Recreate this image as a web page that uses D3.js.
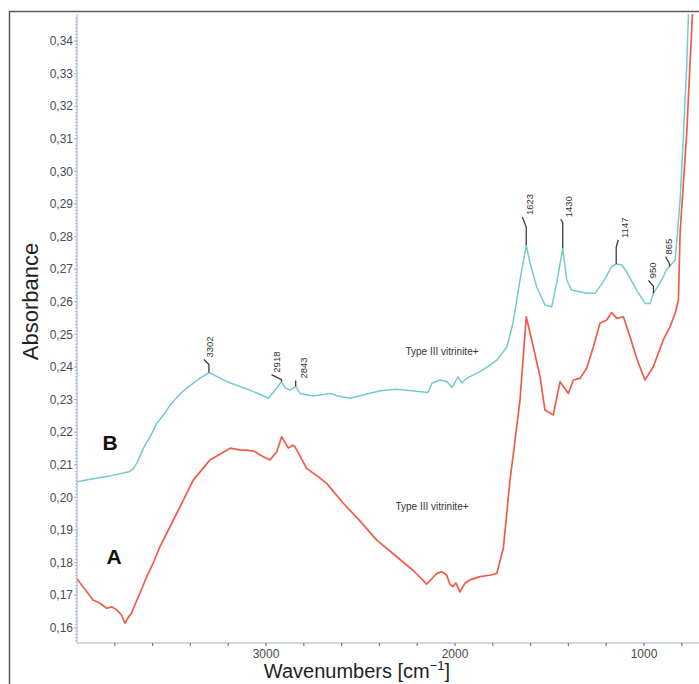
<!DOCTYPE html>
<html>
<head>
<meta charset="utf-8">
<script src="https://cdn.jsdelivr.net/npm/d3@7/dist/d3.min.js"></script>
<style>
  body { margin: 0; background: #fff; }
  svg { display: block; font-family: "Liberation Sans", Arial, sans-serif; }
</style>
</head>
<body>
<svg id="chart"></svg>
<script>
// wavenumber [cm-1], absorbance
const seriesB = [
  [4000, 0.2048], [3931, 0.2056], [3825, 0.2066], [3725, 0.2079], [3704, 0.2087],
  [3683, 0.2106], [3645, 0.2155], [3614, 0.2185], [3577, 0.2228], [3534, 0.2259],
  [3508, 0.2283], [3455, 0.2317], [3418, 0.2336], [3349, 0.2366], [3302, 0.2383],
  [3206, 0.2355], [3085, 0.2329], [2986, 0.2304], [2918, 0.2355], [2899, 0.2336],
  [2873, 0.2329], [2843, 0.2340], [2820, 0.2319], [2751, 0.2311], [2661, 0.2319],
  [2619, 0.2311], [2556, 0.2304], [2487, 0.2314], [2397, 0.2327], [2307, 0.2332],
  [2143, 0.2322], [2122, 0.2350], [2079, 0.2360], [2042, 0.2355], [2016, 0.2337],
  [1984, 0.2370], [1963, 0.2351], [1937, 0.2366], [1884, 0.2381], [1852, 0.2391],
  [1778, 0.2421], [1725, 0.2462], [1693, 0.2535], [1656, 0.2667], [1623, 0.2774],
  [1603, 0.2719], [1568, 0.2646], [1524, 0.2590], [1488, 0.2585], [1462, 0.2658],
  [1430, 0.2764], [1409, 0.2667], [1383, 0.2636], [1339, 0.2631], [1303, 0.2626],
  [1259, 0.2626], [1215, 0.2662], [1171, 0.2708], [1147, 0.2716], [1118, 0.2713],
  [1092, 0.2692], [1039, 0.2636], [995, 0.2595], [968, 0.2595], [950, 0.2626],
  [906, 0.2667], [880, 0.2700], [865, 0.2708], [835, 0.2728], [809, 0.2912],
  [791, 0.3118], [774, 0.3321], [765, 0.3480], [760, 0.3600]
];

const seriesA = [
  [4000, 0.1750], [3950, 0.1712], [3915, 0.1685], [3880, 0.1676], [3843, 0.1660],
  [3815, 0.1664], [3790, 0.1655], [3765, 0.1640], [3746, 0.1614], [3729, 0.1632],
  [3711, 0.1645], [3690, 0.1676], [3667, 0.1706], [3631, 0.1757], [3595, 0.1801],
  [3561, 0.1849], [3508, 0.1910], [3455, 0.1971], [3385, 0.2053], [3296, 0.2115],
  [3190, 0.2151], [3140, 0.2146], [3102, 0.2145], [3060, 0.2141], [3032, 0.2130],
  [2979, 0.2115], [2943, 0.2140], [2917, 0.2186], [2882, 0.2151], [2860, 0.2160],
  [2847, 0.2156], [2785, 0.2089], [2730, 0.2066], [2679, 0.2043], [2591, 0.1982],
  [2503, 0.1928], [2414, 0.1869], [2308, 0.1818], [2220, 0.1775], [2150, 0.1734],
  [2120, 0.1752], [2097, 0.1767], [2070, 0.1772], [2044, 0.1762], [2028, 0.1735],
  [2011, 0.1726], [1995, 0.1738], [1974, 0.1710], [1948, 0.1736], [1921, 0.1747],
  [1868, 0.1757], [1810, 0.1762], [1779, 0.1767], [1744, 0.1845], [1709, 0.2053],
  [1691, 0.2135], [1656, 0.2299], [1623, 0.2554], [1586, 0.2462], [1550, 0.2370],
  [1524, 0.2268], [1480, 0.2253], [1444, 0.2355], [1400, 0.2319], [1374, 0.2360],
  [1339, 0.2365], [1303, 0.2396], [1268, 0.2462], [1233, 0.2534], [1197, 0.2544],
  [1171, 0.2567], [1144, 0.2549], [1109, 0.2554], [1074, 0.2493], [1039, 0.2427],
  [995, 0.2360], [951, 0.2401], [898, 0.2483], [862, 0.2524], [835, 0.2565],
  [818, 0.2606], [809, 0.2811], [774, 0.3118], [744, 0.3480], [740, 0.3600]
];

const peakLabels = ["3302", "2918", "2843", "1623", "1430", "1147", "950", "865"];
const peakWaves = [3302, 2918, 2843, 1623, 1430, 1147, 950, 865];
const yTicks = [0.16, 0.17, 0.18, 0.19, 0.20, 0.21, 0.22, 0.23, 0.24, 0.25,
  0.26, 0.27, 0.28, 0.29, 0.30, 0.31, 0.32, 0.33, 0.34];
const xTicks = [3000, 2000, 1000];
const sampleNames = ["A", "B"];
const sampleNote = "Type III vitrinite+";

const width = 699;
const height = 684;
const plot = { left: 77, right: 699, top: 14, bottom: 643 };

// leader line: vertical length, slant dx, slant dy, text x offset
const leaderLayout = [
  [8, -5, 5, 1], [2, -10, 5, -5], [4, 0, 2, 8], [18, -4, 10, 3],
  [26, -2, 3, 5.5], [17, 2, 7, 8], [7, -5, 6, -1], [3, -4, 7, -1]
];

const colorA = "#f05c47";
const colorB = "#74cbcd";
const axisColor = "#9eb0c0";

const svg = d3.select("#chart").attr("width", width).attr("height", height);

const x = d3.scaleLinear().domain([4000, 400]).range([plot.left, plot.left + 3600 * 0.189]);
const y = d3.scaleLinear().domain([0.15534, 0.34828]).range([plot.bottom, plot.top]);

const commaFmt = v => d3.format(".2f")(v).replace(".", ",");

// outer frame
svg
  .append("path")
  .attr("d", `M9.5,${height + 2}V11.5H${width + 2}`)
  .attr("fill", "none")
  .attr("stroke", "#5a5a5a")
  .attr("stroke-width", 1.5);

svg
  .append("clipPath")
  .attr("id", "clip")
  .append("rect")
  .attr("x", plot.left)
  .attr("y", plot.top)
  .attr("width", plot.right - plot.left)
  .attr("height", plot.bottom - plot.top);

// y axis
const yAxis = svg.append("g").attr("transform", `translate(${plot.left},0)`);
yAxis
  .append("line")
  .attr("y1", plot.top)
  .attr("y2", plot.bottom)
  .attr("stroke", axisColor);
yAxis
  .selectAll("line.minor")
  .data(d3.range(0.156, 0.348, 0.001))
  .enter()
  .append("line")
  .attr("class", "minor")
  .attr("x1", -2)
  .attr("x2", 0)
  .attr("y1", d => y(d))
  .attr("y2", d => y(d))
  .attr("stroke", axisColor)
  .attr("stroke-width", 0.8);
const yTick = yAxis
  .selectAll("g.tick")
  .data(yTicks)
  .enter()
  .append("g")
  .attr("class", "tick")
  .attr("transform", d => `translate(0,${y(d)})`);
yTick.append("line").attr("x1", -3).attr("x2", 0).attr("stroke", axisColor);
yTick
  .append("text")
  .attr("x", -4)
  .attr("dy", "0.35em")
  .attr("text-anchor", "end")
  .attr("font-size", 12)
  .attr("fill", "#4b4b4b")
  .text(commaFmt);

// x axis
const xAxis = svg.append("g").attr("transform", `translate(0,${plot.bottom})`);
xAxis
  .append("line")
  .attr("x1", plot.left)
  .attr("x2", plot.right)
  .attr("stroke", axisColor);
xAxis
  .selectAll("line.minor")
  .data(d3.range(3800, 600, -200))
  .enter()
  .append("line")
  .attr("class", "minor")
  .attr("x1", d => x(d))
  .attr("x2", d => x(d))
  .attr("y1", 0)
  .attr("y2", 3)
  .attr("stroke", "#6d7b88")
  .attr("stroke-width", 1.2);
xAxis
  .selectAll("text")
  .data(xTicks)
  .enter()
  .append("text")
  .attr("x", d => x(d))
  .attr("y", 14.5)
  .attr("text-anchor", "middle")
  .attr("font-size", 12)
  .attr("fill", "#4b4b4b")
  .text(d => d);

// axis titles
svg
  .append("text")
  .attr("transform", `translate(38,${(plot.top + plot.bottom) / 2 - 27}) rotate(-90)`)
  .attr("text-anchor", "middle")
  .attr("font-size", 22)
  .attr("fill", "#1e1e1e")
  .text("Absorbance");

const xTitle = svg
  .append("text")
  .attr("x", 357)
  .attr("y", 678)
  .attr("text-anchor", "middle")
  .attr("font-size", 20)
  .attr("fill", "#1e1e1e");
xTitle.append("tspan").text("Wavenumbers [cm");
xTitle.append("tspan").attr("font-size", 13).attr("dy", -8).text("\u22121");
xTitle.append("tspan").attr("dy", 8).text("]");

// spectra
const line = d3
  .line()
  .x(d => x(d[0]))
  .y(d => y(d[1]));

const lines = svg.append("g").attr("clip-path", "url(#clip)");
lines
  .selectAll("path")
  .data([
    { name: "A", values: seriesA, color: colorA, w: 1.7 },
    { name: "B", values: seriesB, color: colorB, w: 1.5 }
  ])
  .enter()
  .append("path")
  .attr("d", d => line(d.values))
  .attr("fill", "none")
  .attr("stroke", d => d.color)
  .attr("stroke-width", d => d.w)
  .attr("stroke-linejoin", "round");

// peak labels on spectrum B
function valueAt(series, wn) {
  const hit = series.find(d => d[0] === wn);
  return hit ? hit[1] : null;
}

const peaks = svg
  .append("g")
  .selectAll("g")
  .data(peakWaves.map((wn, i) => ({ wn, label: peakLabels[i], lay: leaderLayout[i] })))
  .enter()
  .append("g");

peaks
  .append("path")
  .attr("d", d => {
    const px = x(d.wn);
    const py = y(valueAt(seriesB, d.wn));
    const [len, dx, dy] = d.lay;
    return `M${px},${py}V${py - len}L${px + dx},${py - len - dy}`;
  })
  .attr("fill", "none")
  .attr("stroke", "#3c3c3c")
  .attr("stroke-width", 1.3);

peaks
  .append("text")
  .attr("transform", d => {
    const px = x(d.wn);
    const py = y(valueAt(seriesB, d.wn));
    const [len, , dy, tx] = d.lay;
    return `translate(${px + tx + 3.5},${py - len - dy - 2}) rotate(-90)`;
  })
  .attr("font-size", 9.5)
  .attr("fill", "#333")
  .text(d => d.label);

// sample annotations
svg
  .append("text")
  .attr("x", 442)
  .attr("y", 355)
  .attr("text-anchor", "middle")
  .attr("font-size", 10)
  .attr("fill", "#333")
  .text(sampleNote);
svg
  .append("text")
  .attr("x", 432)
  .attr("y", 510)
  .attr("text-anchor", "middle")
  .attr("font-size", 10)
  .attr("fill", "#333")
  .text(sampleNote);

svg
  .selectAll("text.sample")
  .data(sampleNames)
  .enter()
  .append("text")
  .attr("class", "sample")
  .attr("x", d => (d === "A" ? 114 : 110))
  .attr("y", d => (d === "A" ? 564 : 450))
  .attr("text-anchor", "middle")
  .attr("font-size", 21)
  .attr("font-weight", "bold")
  .attr("fill", "#111")
  .text(d => d);
</script>
</body>
</html>
